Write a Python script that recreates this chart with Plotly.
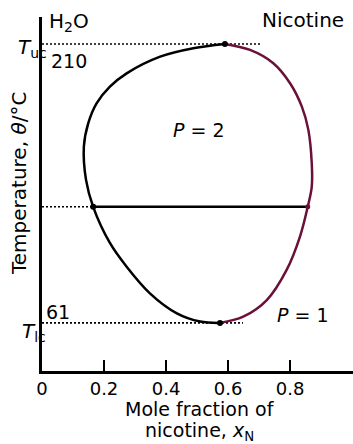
import plotly.graph_objects as go

# ---- data ----
# left (water-rich) branch, from upper critical point down to lower critical point
left_x = [0.590, 0.488, 0.381, 0.273, 0.219, 0.176, 0.149, 0.135, 0.142, 0.165,
          0.219, 0.273, 0.348, 0.435, 0.510, 0.574]
left_T = [210.0, 207.7, 203.2, 194.3, 187.2, 178.3, 167.6, 155.1, 137.4, 123.0,
          103.7, 91.0, 76.8, 66.1, 61.7, 61.0]
# right (nicotine-rich) branch, from upper critical point down to lower critical point
right_x = [0.590, 0.671, 0.746, 0.800, 0.838, 0.859, 0.870, 0.870, 0.857, 0.832,
           0.789, 0.725, 0.649, 0.574]
right_T = [210.0, 206.8, 199.7, 189.0, 176.5, 164.1, 146.3, 133.8, 123.0, 107.1,
           89.3, 73.2, 64.3, 61.0]

T_uc = 210
T_lc = 61
x_uc = 0.590
x_lc = 0.574
tie_T = 123
tie_x = [0.165, 0.857]
uc_dot_end = 0.703
lc_dot_end = 0.648

x_ticks = [0, 0.2, 0.4, 0.6, 0.8, 1]
x_tick_text = ["0", "0.2", "0.4", "0.6", "0.8", "1"]

FONT = "DejaVu Sans"
MAROON = "#6a1039"

fig = go.Figure()

# dotted guide lines
for xs, ys in ([[0, uc_dot_end], [T_uc, T_uc]],
               [[0, lc_dot_end], [T_lc, T_lc]],
               [[0, tie_x[0]], [tie_T, tie_T]]):
    fig.add_trace(go.Scatter(x=xs, y=ys, mode="lines",
                             line=dict(color="black", width=1.6, dash="2px,2px")))

# tie line
fig.add_trace(go.Scatter(x=tie_x, y=[tie_T, tie_T], mode="lines",
                         line=dict(color="black", width=2.5)))

# coexistence curve
fig.add_trace(go.Scatter(x=right_x, y=right_T, mode="lines",
                         line=dict(color=MAROON, width=2.5, shape="spline", smoothing=1.0)))
fig.add_trace(go.Scatter(x=left_x, y=left_T, mode="lines",
                         line=dict(color="black", width=2.5, shape="spline", smoothing=1.0)))

# points
fig.add_trace(go.Scatter(x=[x_uc, x_lc, tie_x[0]], y=[T_uc, T_lc, tie_T], mode="markers",
                         marker=dict(color="black", size=6)))
fig.add_trace(go.Scatter(x=[tie_x[1]], y=[tie_T], mode="markers",
                         marker=dict(color=MAROON, size=5)))

ann = []
def A(x, y, text, size=20, xanchor="left", yanchor="middle", **kw):
    ann.append(dict(x=x, y=y, xref="paper", yref="paper", text=text, showarrow=False,
                    xanchor=xanchor, yanchor=yanchor,
                    font=dict(family=FONT, size=size, color="black"), **kw))

A(0.017, 0.985, "H<sub>2</sub>O", size=20)
A(0.976, 0.992, "Nicotine", size=20, xanchor="right")
A(-0.082, 0.912, "<i>T</i><sub>uc</sub>", size=20)
A(0.024, 0.877, "210", size=19)
A(0.008, 0.167, "61", size=19)
A(-0.072, 0.110, "<i>T</i><sub>lc</sub>", size=20)
A(0.414, 0.681, "<i>P</i> = 2", size=19)
A(0.748, 0.158, "<i>P</i> = 1", size=19)
A(-0.074, 0.531, "Temperature, <i>θ</i>/°C", size=20, xanchor="center", textangle=-90)
A(0.508, -0.1073, "Mole fraction of", size=19, xanchor="center")
A(0.508, -0.1695, "nicotine, <i>x</i><sub>N</sub>", size=19, xanchor="center")

fig.update_layout(
    width=353, height=444,
    margin=dict(l=42, r=0, t=17, b=73, autoexpand=False),
    paper_bgcolor="white", plot_bgcolor="white",
    showlegend=False,
    hovermode=False,
    annotations=ann,
    font=dict(family=FONT, color="black"),
    xaxis=dict(range=[0, 1.003], showgrid=False, zeroline=False, automargin=False,
               showline=True, linecolor="black", linewidth=2.5,
               tickmode="array", tickvals=x_ticks, ticktext=x_tick_text,
               ticks="inside", ticklen=11, tickwidth=2, tickcolor="black",
               tickfont=dict(family=FONT, size=18, color="black")),
    yaxis=dict(range=[35.3, 224.4], showgrid=False, zeroline=False, automargin=False,
               showline=True, linecolor="black", linewidth=2.5,
               showticklabels=False, ticks=""),
)

fig.write_html("out.html", config={"displayModeBar": False},
               post_script="document.body.style.margin='0';document.body.style.overflow='hidden';")
